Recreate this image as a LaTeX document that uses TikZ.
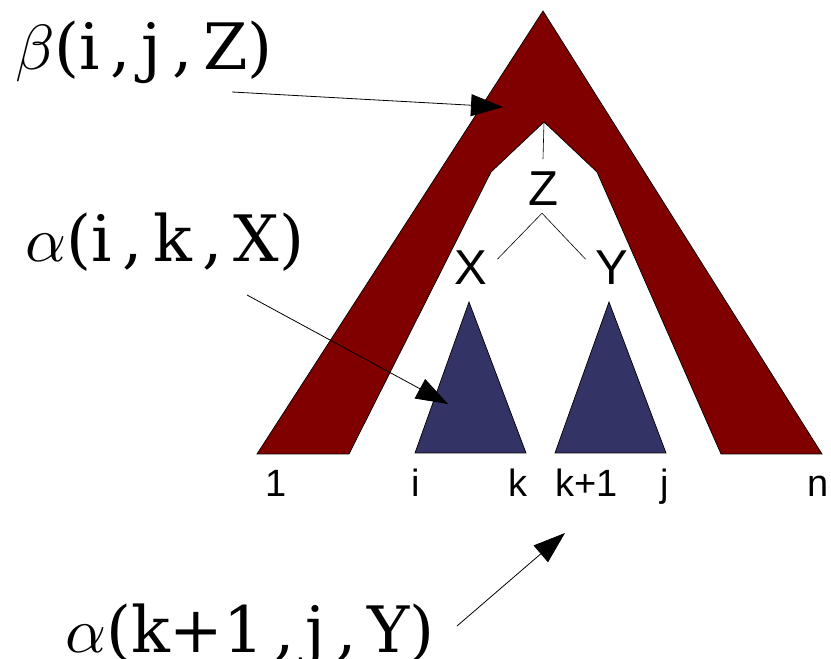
\documentclass[tikz,border=0pt]{standalone}
\usepackage{fontspec}
\setmainfont{Liberation Sans}
\newfontfamily\serflbl{DejaVu Serif}
\usetikzlibrary{arrows.meta,calc}
\definecolor{outside}{HTML}{800000}
\definecolor{inside}{HTML}{333366}
\newcommand\qtylbl[1]{\scalebox{6.4}{\fontsize{10bp}{12bp}\selectfont\serflbl #1}}

\begin{document}
\begin{tikzpicture}[
  x=1bp,y=1bp,
  >={Triangle[length=32bp,width=22bp]},
  arch/.style={draw=black,line width=0.7bp,fill=outside,line join=miter},
  subtree/.style={draw=black,line width=0.7bp,fill=inside},
  spanlbl/.style={anchor=base,inner sep=0pt,font=\fontsize{38bp}{40bp}\selectfont},
  sym/.style={anchor=base,inner sep=0pt,font=\fontsize{49bp}{52bp}\selectfont},
  quant/.style={anchor=base west,inner sep=0pt},
  ptr/.style={->,line width=0.8bp},
  rule/.style={line width=0.6bp}
]
\useasboundingbox (0,0) rectangle (831,659);
% --- outside tree: beta ---------------------------------------------------
\coordinate (apex) at (543,648);
\coordinate (root) at (544,537);
\draw[arch] (257,205) -- (apex) -- (822,205) -- (721,205) -- (597,487)
  -- (root) -- (491,487) -- (349,205) -- cycle;
% --- inside trees: alpha --------------------------------------------------
\draw[subtree] (415,206) -- (469,357) -- (526,206) -- cycle;
\draw[subtree] (555,206) -- (609,357) -- (666,206) -- cycle;
% --- the rule Z -> X Y ----------------------------------------------------
\node[sym] (z) at (543,453) {Z};
\node[sym] (x) at (471,374) {X};
\node[sym] (y) at (612,374) {Y};
\draw[rule] (root) -- ($(z.north)+(0,13)$);
\draw[rule] ($(z.south)+(-1,-7)$) -- ($(x.north east)+(10,-8)$);
\draw[rule] ($(z.south)+(-1,-7)$) -- ($(y.north west)+(-10,-8)$);
% --- span positions -------------------------------------------------------
\foreach \lbl/\xx [count=\n] in {1/276,i/415.5,k/518,k+1/586.5,j/665,n/818.5}
  \node[spanlbl] (p\n) at (\xx,162) {\lbl};
% --- quantities and pointers ----------------------------------------------
\node[quant] (beta) at (15,589) {\qtylbl{$\beta$(i\,,\,j\,,\,Z)}};
\node[quant] (ain) at (25,397) {\qtylbl{$\alpha$(i\,,\,k\,,\,X)}};
\node[quant] (aout) at (65,6) {\qtylbl{$\alpha$(k+1\,,\,j\,,\,Y)}};
\coordinate (beta0) at (232,567);
\coordinate (beta1) at (503,552);
\coordinate (ain0) at (247,364);
\coordinate (ain1) at (448,255);
\coordinate (aout0) at (457,33);
\coordinate (aout1) at (565,126);
\draw[ptr] (beta0) -- (beta1);
\draw[ptr] (ain0) -- (ain1);
\draw[ptr] (aout0) -- (aout1);
\end{tikzpicture}
\end{document}
